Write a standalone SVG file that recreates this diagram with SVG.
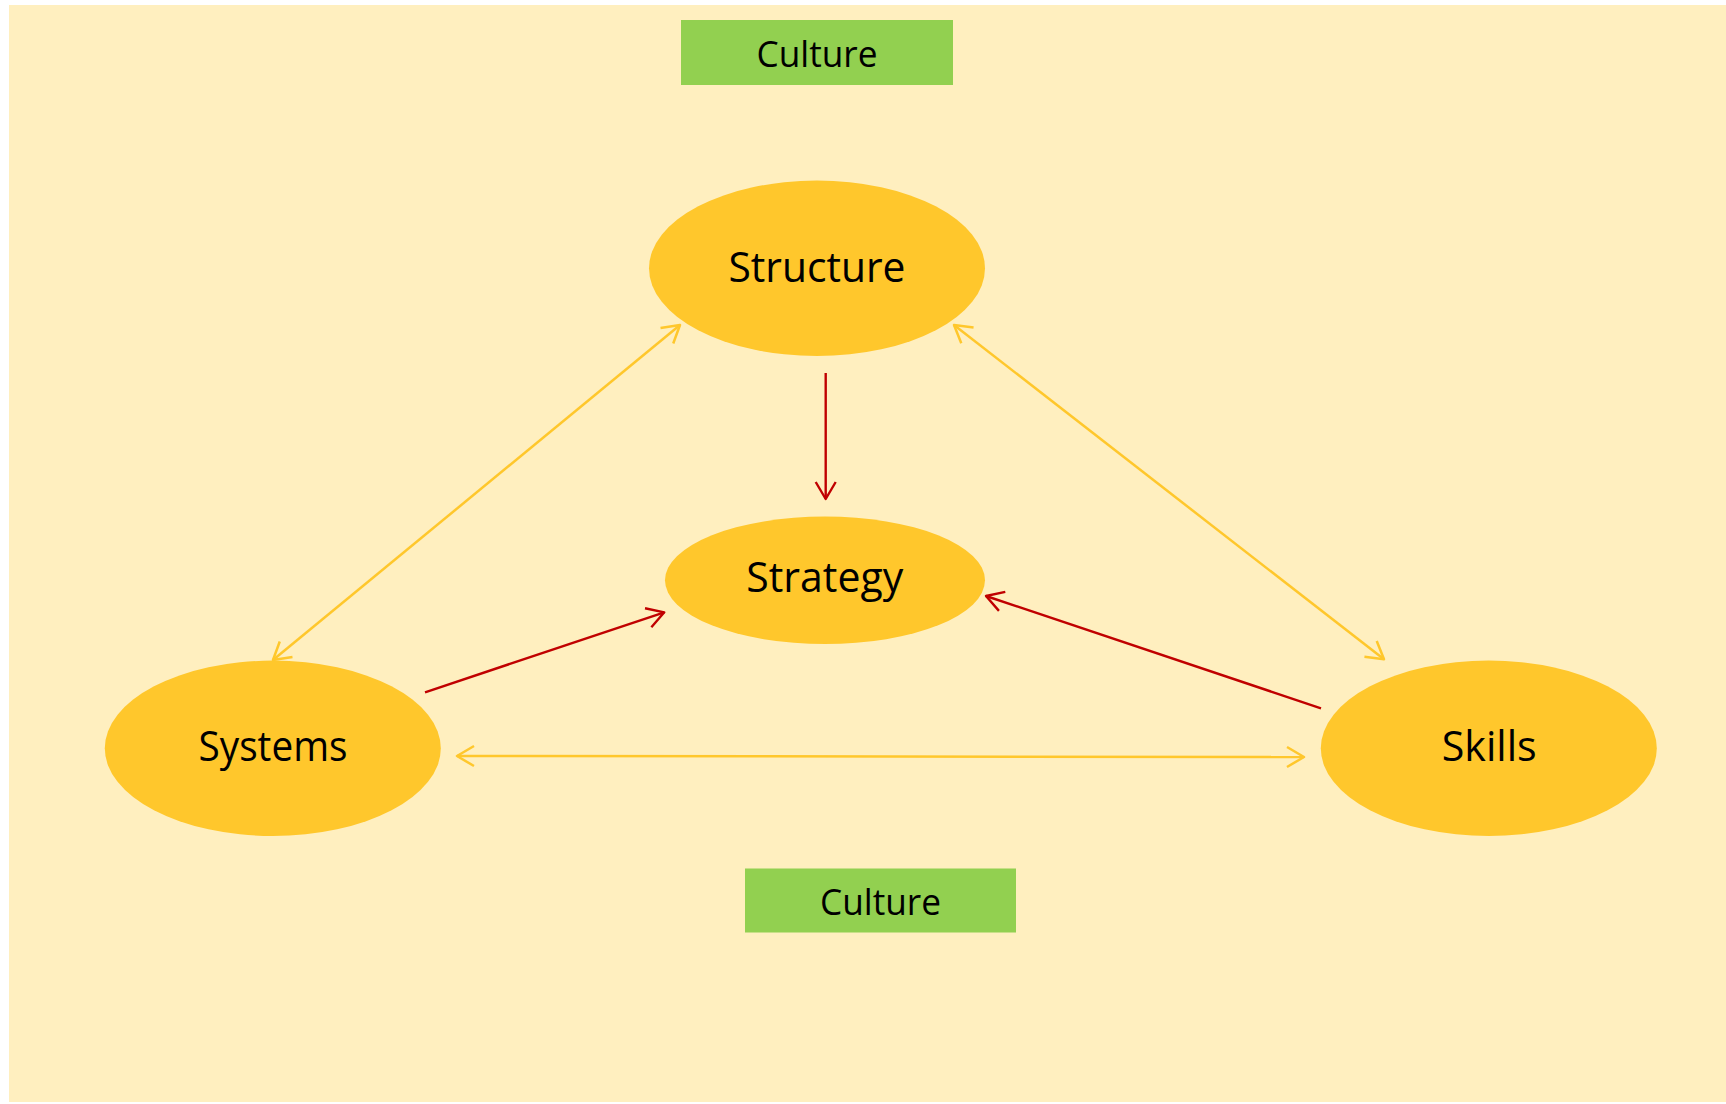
<svg xmlns="http://www.w3.org/2000/svg" width="1726" height="1104" viewBox="0 0 1726 1104">
<style>
.node{fill:#FFC72C;}
.box{fill:#92D050;}
.lbl{font-family:"Open Sans","Liberation Sans",sans-serif;fill:#000;text-anchor:middle;}
.big{font-size:42px;}
.small{font-size:37px;}
.yl{stroke:#FFC72C;stroke-width:2.5;fill:none;marker-start:url(#ay);marker-end:url(#ay);}
.rd{stroke:#C00000;stroke-width:2.4;fill:none;marker-end:url(#ar);}
</style>
<defs>
<marker id="ay" markerUnits="userSpaceOnUse" viewBox="0 0 24 24" markerWidth="24" markerHeight="24" refX="20" refY="12" orient="auto-start-reverse">
<path d="M3,2 L20,12 L3,22" fill="none" stroke="#FFC72C" stroke-width="2.5" stroke-linejoin="round"/>
</marker>
<marker id="ar" markerUnits="userSpaceOnUse" viewBox="0 0 24 24" markerWidth="24" markerHeight="24" refX="20" refY="12" orient="auto">
<path d="M3,2 L20,12 L3,22" fill="none" stroke="#C00000" stroke-width="2.4" stroke-linejoin="round"/>
</marker>
</defs>
<rect x="9" y="5" width="1717" height="1097" fill="#FFEFBF"/>
<g id="connectors">
<line class="yl" x1="273" y1="660" x2="680" y2="325"/>
<line class="yl" x1="954" y1="325" x2="1384" y2="659.3"/>
<line class="yl" x1="457" y1="756" x2="1304" y2="757"/>
<line class="rd" x1="825.7" y1="373" x2="825.7" y2="499"/>
<line class="rd" x1="425" y1="692.3" x2="664.3" y2="612.3"/>
<line class="rd" x1="1321" y1="708.3" x2="986" y2="596"/>
</g>
<g id="culture-top">
<rect class="box" x="681" y="20" width="272" height="65"/>
<text class="lbl small" x="817" y="66.5" textLength="121" lengthAdjust="spacingAndGlyphs">Culture</text>
</g>
<g id="structure">
<ellipse class="node" cx="817" cy="268.3" rx="168" ry="87.7"/>
<text class="lbl big" x="817" y="281.7" textLength="177" lengthAdjust="spacingAndGlyphs">Structure</text>
</g>
<g id="strategy">
<ellipse class="node" cx="825" cy="580.3" rx="160" ry="63.7"/>
<text class="lbl big" x="824.7" y="592.3" textLength="157" lengthAdjust="spacingAndGlyphs">Strategy</text>
</g>
<g id="systems">
<ellipse class="node" cx="272.8" cy="748.3" rx="168" ry="87.7"/>
<text class="lbl big" x="273" y="761" textLength="149" lengthAdjust="spacingAndGlyphs">Systems</text>
</g>
<g id="skills">
<ellipse class="node" cx="1488.8" cy="748.3" rx="168" ry="87.7"/>
<text class="lbl big" x="1489.2" y="761" textLength="95" lengthAdjust="spacingAndGlyphs">Skills</text>
</g>
<g id="culture-bottom">
<rect class="box" x="745" y="868.5" width="271" height="64"/>
<text class="lbl small" x="880.5" y="915" textLength="121" lengthAdjust="spacingAndGlyphs">Culture</text>
</g>
</svg>
